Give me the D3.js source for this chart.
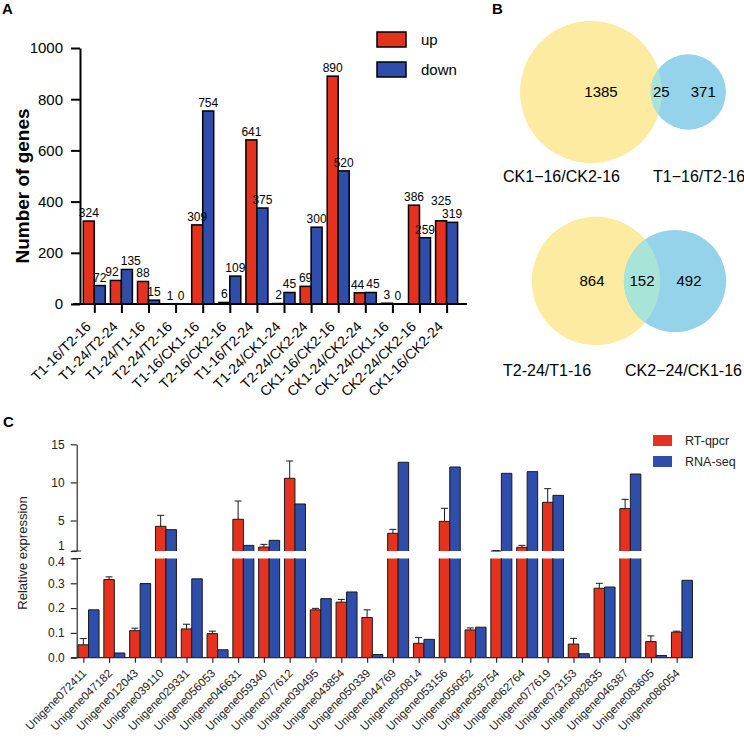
<!DOCTYPE html>
<html><head><meta charset="utf-8">
<script src="https://cdn.jsdelivr.net/npm/d3@7"></script>
<style>
body{margin:0;background:#fff}
svg{display:block}
text{font-family:"Liberation Sans",Arial,Helvetica,sans-serif}
</style>
</head><body>
<script>
// ---------- Panel A data ----------
const degCategories = ["T1-16/T2-16","T1-24/T2-24","T1-24/T1-16","T2-24/T2-16","T1-16/CK1-16","T2-16/CK2-16","T1-16/T2-24","T1-24/CK1-24","T2-24/CK2-24","CK1-16/CK2-16","CK1-24/CK2-24","CK1-24/CK1-16","CK2-24/CK2-16","CK1-16/CK2-24"];
const degUp   = [324, 92, 88, 1, 309, 6, 641, 2, 69, 890, 44, 3, 386, 325];
const degDown = [72, 135, 15, 0, 754, 109, 375, 45, 300, 520, 45, 0, 259, 319];
const degTicks = [0, 200, 400, 600, 800, 1000];
const degSeries = ["up", "down"];

// ---------- Panel B data ----------
const vennTopSets = ["CK1\u221216/CK2-16", "T1\u221216/T2-16"];
const vennTopCounts = [1385, 25, 371];          // only-left, both, only-right
const vennBottomSets = ["T2-24/T1-16", "CK2\u221224/CK1-16"];
const vennBottomCounts = [864, 152, 492];

// ---------- Panel C data ----------
const genes = ["Unigene072411","Unigene047182","Unigene012043","Unigene039110","Unigene029331","Unigene056053","Unigene046631","Unigene059340","Unigene077612","Unigene030495","Unigene043854","Unigene050339","Unigene044769","Unigene050814","Unigene053156","Unigene056052","Unigene058754","Unigene062764","Unigene077619","Unigene073153","Unigene082835","Unigene046387","Unigene083605","Unigene086054"];
const qpcr    = [0.052, 0.315, 0.109, 4.24, 0.116, 0.097, 5.16, 1.52, 10.54, 0.193, 0.224, 0.162, 3.32, 0.058, 4.89, 0.112, 1.0, 1.48, 7.39, 0.055, 0.28, 6.56, 0.065, 0.103];
const qpcrSD  = [0.025, 0.011, 0.010, 1.44, 0.019, 0.010, 2.40, 0.35, 2.27, 0.006, 0.011, 0.031, 0.52, 0.023, 1.71, 0.008, 0.05, 0.26, 1.79, 0.023, 0.02, 1.22, 0.023, 0.004];
const rnaseq  = [0.193, 0.019, 0.299, 3.8, 0.318, 0.032, 1.74, 2.4, 7.17, 0.238, 0.265, 0.013, 12.64, 0.074, 12.02, 0.123, 11.19, 11.41, 8.3, 0.016, 0.285, 11.1, 0.009, 0.312];
const lowTicks = [0, 0.1, 0.2, 0.3, 0.4];
const highTicks = [1, 5, 10, 15];
const exprSeries = ["RT-qpcr", "RNA-seq"];

const RED = "#e4321f", BLUE = "#2f4dab";
const W = 744, H = 743;
const svg = d3.select("body").append("svg").attr("width", W).attr("height", H);

// ================= PANEL A =================
const gA = svg.append("g");
gA.append("text").attr("x", 2).attr("y", 14).attr("font-size", 15).attr("font-weight", "bold").text("A");

const yA = d3.scaleLinear().domain([0, 1000]).range([304, 48]);
const xA = d3.scalePoint().domain(degCategories).range([94.3, 446.6]);
const bwA = 11;

const yAxA = gA.append("g").attr("transform", "translate(80,0)")
  .call(d3.axisLeft(yA).tickValues(degTicks).tickFormat(d3.format("d")).tickSize(9).tickPadding(8).tickSizeOuter(0));
yAxA.select(".domain").attr("stroke", "#000").attr("stroke-width", 2);
yAxA.selectAll(".tick line").attr("stroke", "#000").attr("stroke-width", 2);
yAxA.selectAll(".tick text").attr("font-size", 15).attr("fill", "#000")
  .style("font-family", "'Liberation Sans',Arial,sans-serif");

gA.append("text").attr("transform", "translate(29,186) rotate(-90)")
  .attr("text-anchor", "middle").attr("font-size", 19).attr("font-weight", "bold").text("Number of genes");

const barsA = [];
degCategories.forEach((c, i) => {
  barsA.push({c, s: 0, v: degUp[i], x: xA(c) - bwA});
  barsA.push({c, s: 1, v: degDown[i], x: xA(c)});
});
gA.selectAll("rect.bar").data(barsA).join("rect")
  .attr("x", d => d.x).attr("width", bwA)
  .attr("y", d => yA(d.v)).attr("height", d => yA(0) - yA(d.v))
  .attr("fill", d => d.s === 0 ? RED : BLUE)
  .attr("stroke", "#000").attr("stroke-width", 1.5);

// x axis A
gA.append("line").attr("x1", 73).attr("x2", 467).attr("y1", 304).attr("y2", 304)
  .attr("stroke", "#000").attr("stroke-width", 2);
const xAxA = gA.append("g").attr("transform", "translate(0,304)")
  .call(d3.axisBottom(xA).tickSize(9).tickSizeOuter(0));
xAxA.select(".domain").remove();
xAxA.selectAll(".tick line").attr("stroke", "#000").attr("stroke-width", 2);
xAxA.selectAll(".tick text").remove();
gA.selectAll("text.xlabA").data(degCategories).join("text")
  .attr("transform", c => `translate(${xA(c) - 6},324) rotate(-45)`)
  .attr("text-anchor", "end").attr("dy", "0.35em").attr("font-size", 14).text(c => c);

// value labels with simple collision handling
const cw = 6.7;
const labs = barsA.map(d => ({...d, lx: d.x + bwA / 2, ly: yA(d.v) - 4, w: String(d.v).length * cw}));
for (let i = 0; i < labs.length; i += 2) {
  const a = labs[i], b = labs[i + 1];
  const needX = (a.w + b.w) / 2 - (b.lx - a.lx);
  const overlapY = Math.abs(a.ly - b.ly) < 12;
  if (needX > 0 && overlapY) {
    if (needX <= 6) { a.lx -= needX / 2 + 1; b.lx += needX / 2 + 1; }
    else {
      const hi = a.v >= b.v ? a : b, lo = hi === a ? b : a;
      hi.ly = lo.ly - 13;
    }
  }
}
gA.selectAll("text.val").data(labs).join("text")
  .attr("x", d => d.lx).attr("y", d => d.ly).attr("text-anchor", "middle")
  .attr("font-size", 12).text(d => d.v);

// legend A
const legA = gA.append("g");
degSeries.forEach((s, i) => {
  legA.append("rect").attr("x", 377).attr("y", 32 + i * 30).attr("width", 29).attr("height", 15)
    .attr("fill", i === 0 ? RED : BLUE).attr("stroke", "#000").attr("stroke-width", 1.5);
  legA.append("text").attr("x", 421).attr("y", 45 + i * 30).attr("font-size", 15).text(s);
});

// ================= PANEL B =================
const gB = svg.append("g");
gB.append("text").attr("x", 492).attr("y", 14).attr("font-size", 15).attr("font-weight", "bold").text("B");
const YEL = "#fdeba1", CYAN = "#94d3ea", MIX = "#a9e4d9";

function venn(id, sets, counts, cx, cy, rMax, dist, textPos, labelPos) {
  const g = gB.append("g");
  const totL = counts[0] + counts[1], totR = counts[1] + counts[2];
  const r = d3.scaleSqrt().domain([0, totL]).range([0, rMax]);
  const r1 = r(totL), r2 = r(totR), cx2 = cx + dist;
  g.append("circle").attr("cx", cx).attr("cy", cy).attr("r", r1).attr("fill", YEL);
  g.append("circle").attr("cx", cx2).attr("cy", cy).attr("r", r2).attr("fill", CYAN);
  const defs = svg.append("defs");
  defs.append("clipPath").attr("id", id).append("circle").attr("cx", cx).attr("cy", cy).attr("r", r1);
  g.append("circle").attr("cx", cx2).attr("cy", cy).attr("r", r2).attr("fill", MIX).attr("clip-path", `url(#${id})`);
  const lensMid = ((cx2 - r2) + (cx + r1)) / 2;
  const xs = [cx + textPos[0], lensMid + textPos[1], cx2 + textPos[2]];
  counts.forEach((n, i) => g.append("text").attr("x", xs[i]).attr("y", cy + 5)
    .attr("text-anchor", "middle").attr("font-size", 15).text(n));
  sets.forEach((s, i) => g.append("text").attr("x", labelPos[i][0]).attr("y", labelPos[i][1])
    .attr("font-size", 16).text(s));
}
venn("clipTop", vennTopSets, vennTopCounts, 591, 92, 71, 97.3, [10, 5, 15], [[503, 182], [653, 182]]);
venn("clipBot", vennBottomSets, vennBottomCounts, 596, 281, 64.2, 79, [-4, 0, 14], [[503, 376], [625, 376]]);

// ================= PANEL C =================
const gC = svg.append("g");
gC.append("text").attr("x", 3).attr("y", 427).attr("font-size", 15).attr("font-weight", "bold").text("C");

const axX = 76.7;
const yLo = d3.scaleLinear().domain([0, 0.4]).range([657.7, 558.5]);
const yHi = d3.scaleLinear().domain([1, 15]).range([551, 444.3]);
const xC = d3.scalePoint().domain(genes).range([83.3, 676.7]);
const bwC = 10.5;

const barsC = [];
genes.forEach((g, i) => {
  barsC.push({g, s: 0, v: qpcr[i], sd: qpcrSD[i], x: xC(g) - bwC / 2});
  barsC.push({g, s: 1, v: rnaseq[i], sd: 0, x: xC(g) + bwC / 2});
});
const yC = v => v <= 0.4 ? yLo(v) : yHi(v);

barsC.forEach(d => {
  const col = d.s === 0 ? RED : BLUE;
  const x0 = d.x, x1 = d.x + bwC;
  if (d.v <= 0.4) {
    gC.append("rect").attr("x", x0).attr("y", yLo(d.v)).attr("width", bwC).attr("height", yLo(0) - yLo(d.v)).attr("fill", col);
    gC.append("path").attr("d", `M${x0},${yLo(0)}V${yLo(d.v)}H${x1}V${yLo(0)}`)
      .attr("fill", "none").attr("stroke", "#1a1a1a").attr("stroke-width", 1);
  } else {
    gC.append("rect").attr("x", x0).attr("y", yLo(0.4)).attr("width", bwC).attr("height", yLo(0) - yLo(0.4)).attr("fill", col);
    gC.append("path").attr("d", `M${x0},${yLo(0)}V${yLo(0.4)}M${x1},${yLo(0)}V${yLo(0.4)}`)
      .attr("fill", "none").attr("stroke", "#1a1a1a").attr("stroke-width", 1);
    gC.append("rect").attr("x", x0).attr("y", yHi(d.v)).attr("width", bwC).attr("height", yHi(1) - yHi(d.v)).attr("fill", col);
    gC.append("path").attr("d", `M${x0},${yHi(1)}V${yHi(d.v)}H${x1}V${yHi(1)}`)
      .attr("fill", "none").attr("stroke", "#1a1a1a").attr("stroke-width", 1);
  }
  if (d.sd > 0) {
    const cxm = x0 + bwC / 2, top = yC(d.v + d.sd);
    gC.append("path").attr("d", `M${cxm},${yC(d.v)}V${top}M${cxm - 3.5},${top}H${cxm + 3.5}`)
      .attr("fill", "none").attr("stroke", "#1a1a1a").attr("stroke-width", 1);
  }
});

// axes C
const axCol = "#2a2a2a";
const loAx = gC.append("g").attr("transform", `translate(${axX},0)`)
  .call(d3.axisLeft(yLo).tickValues(lowTicks).tickFormat(d3.format(".1f")).tickSize(6).tickPadding(6).tickSizeOuter(0));
const hiAx = gC.append("g").attr("transform", `translate(${axX},0)`)
  .call(d3.axisLeft(yHi).tickValues(highTicks).tickFormat(d3.format("d")).tickSize(6).tickPadding(6).tickSizeOuter(0));
[loAx, hiAx].forEach(ax => {
  ax.select(".domain").attr("stroke", axCol).attr("stroke-width", 1.2);
  ax.selectAll(".tick line").attr("stroke", axCol).attr("stroke-width", 1.2);
  ax.selectAll(".tick text").attr("font-size", 12).attr("fill", "#222")
    .style("font-family", "'Liberation Sans',Arial,sans-serif");
});
hiAx.selectAll(".tick text").filter(d => d === 1).attr("dy", "-0.12em");
loAx.selectAll(".tick text").filter(d => d === 0.4).attr("dy", "0.62em");
// break caps
gC.append("path").attr("d", `M${axX - 4.5},${yHi(1)}H${axX + 4.5}M${axX - 4.5},${yLo(0.4)}H${axX + 4.5}`)
  .attr("stroke", axCol).attr("stroke-width", 1.2);

gC.append("line").attr("x1", 71).attr("x2", 693).attr("y1", yLo(0)).attr("y2", yLo(0))
  .attr("stroke", axCol).attr("stroke-width", 1.3);
const xAxC = gC.append("g").attr("transform", `translate(0,${yLo(0)})`)
  .call(d3.axisBottom(xC).tickSize(5).tickSizeOuter(0));
xAxC.select(".domain").remove();
xAxC.selectAll(".tick line").attr("stroke", axCol).attr("stroke-width", 1.2);
xAxC.selectAll(".tick text").remove();
gC.selectAll("text.xlabC").data(genes).join("text")
  .attr("transform", g => `translate(${xC(g) + 1},671) rotate(-45)`)
  .attr("text-anchor", "end").attr("dy", "0.35em").attr("font-size", 11.5).attr("fill", "#222").text(g => g);

gC.append("text").attr("transform", "translate(27,553) rotate(-90)")
  .attr("text-anchor", "middle").attr("font-size", 13).attr("fill", "#222").text("Relative expression");

// legend C
exprSeries.forEach((s, i) => {
  gC.append("rect").attr("x", 653).attr("y", 435 + i * 21).attr("width", 19).attr("height", 11)
    .attr("fill", i === 0 ? RED : BLUE);
  gC.append("text").attr("x", 685).attr("y", 445 + i * 21).attr("font-size", 12.5).attr("fill", "#222").text(s);
});
</script>
</body></html>
